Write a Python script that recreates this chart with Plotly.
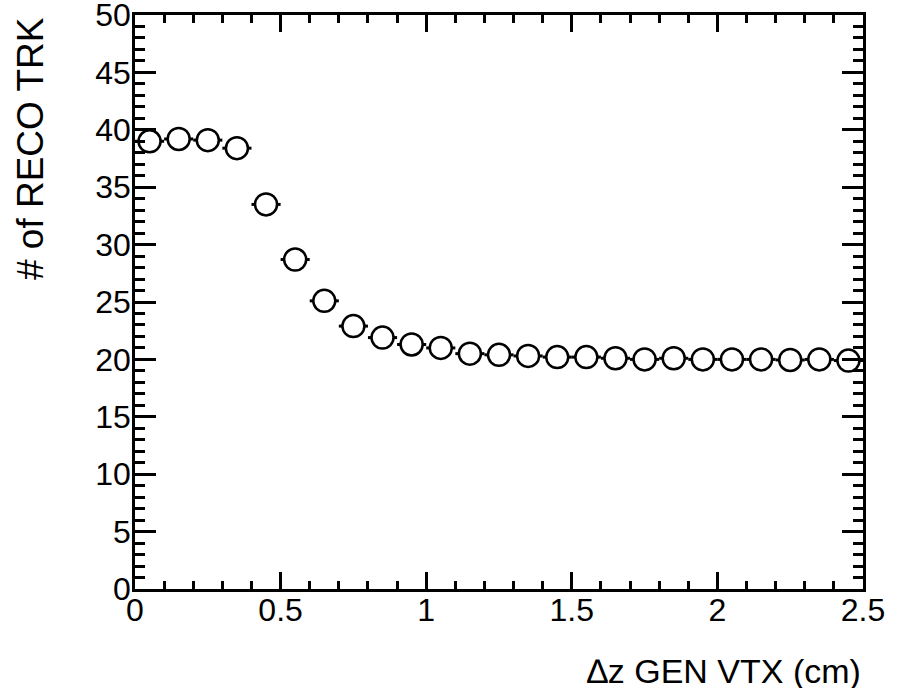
import plotly.graph_objects as go

x_centers = [0.05, 0.15, 0.25, 0.35, 0.45, 0.55, 0.65, 0.75, 0.85, 0.95,
             1.05, 1.15, 1.25, 1.35, 1.45, 1.55, 1.65, 1.75, 1.85, 1.95,
             2.05, 2.15, 2.25, 2.35, 2.45]
n_trk = [39.0, 39.2, 39.1, 38.4, 33.5, 28.7, 25.1, 22.9, 21.9, 21.3,
         21.0, 20.5, 20.4, 20.3, 20.2, 20.2, 20.1, 20.0, 20.1, 20.0,
         20.0, 20.0, 19.95, 20.0, 19.9]
bin_half_width = [0.05] * len(x_centers)

x_tickvals = [0, 0.5, 1, 1.5, 2, 2.5]
x_ticktext = ["0", "0.5", "1", "1.5", "2", "2.5"]
y_tickvals = [0, 5, 10, 15, 20, 25, 30, 35, 40, 45, 50]

x_title = "\u2206z GEN VTX (cm)"
y_title = "# of RECO TRK"

font_family = "Liberation Sans, Arial, Helvetica, sans-serif"

fig = go.Figure()
fig.add_trace(go.Scatter(
    x=x_centers, y=n_trk, mode="markers",
    error_x=dict(type="data", array=bin_half_width, visible=True,
                 color="black", thickness=3, width=0),
    marker=dict(symbol="circle", size=22, color="white",
                line=dict(color="black", width=2.5)),
    cliponaxis=False, showlegend=False, hoverinfo="skip",
))

axis_common = dict(
    showgrid=False, zeroline=False, showline=True, linecolor="black",
    linewidth=2.5, mirror="allticks", ticks="inside", tickcolor="black",
    tickwidth=2.5, tickfont=dict(family=font_family, size=32, color="black"),
    ticklabeloverflow="allow", automargin=False,
)

fig.update_xaxes(range=[0, 2.5], tickvals=x_tickvals, ticktext=x_ticktext,
                 ticklen=17, ticklabelstandoff=-9,
                 minor=dict(dtick=0.1, tick0=0, ticks="inside", ticklen=8,
                            tickwidth=2.5, tickcolor="black"),
                 **axis_common)
fig.update_yaxes(range=[0, 50], tickvals=y_tickvals, ticklen=21,
                 ticklabelstandoff=-5,
                 minor=dict(dtick=1, tick0=0, ticks="inside", ticklen=10,
                            tickwidth=2.5, tickcolor="black"),
                 **axis_common)

fig.update_layout(
    width=897, height=688,
    margin=dict(l=135, r=34, t=15, b=99),
    plot_bgcolor="white", paper_bgcolor="white",
    font=dict(family=font_family, color="black"),
    annotations=[
        dict(text=x_title, xref="paper", yref="paper", x=1, y=-0.143,
             xanchor="right", yanchor="middle", showarrow=False,
             font=dict(size=34, family=font_family, color="black")),
        dict(text=y_title, xref="paper", yref="paper", x=-0.1435, y=1,
             xanchor="center", yanchor="top", textangle=-90, showarrow=False,
             font=dict(size=37, family=font_family, color="black")),
    ],
)

fig.write_html("out.html", config={"displayModeBar": False},
               post_script="document.body.style.margin='0';"
                           "document.body.style.overflow='hidden';")
